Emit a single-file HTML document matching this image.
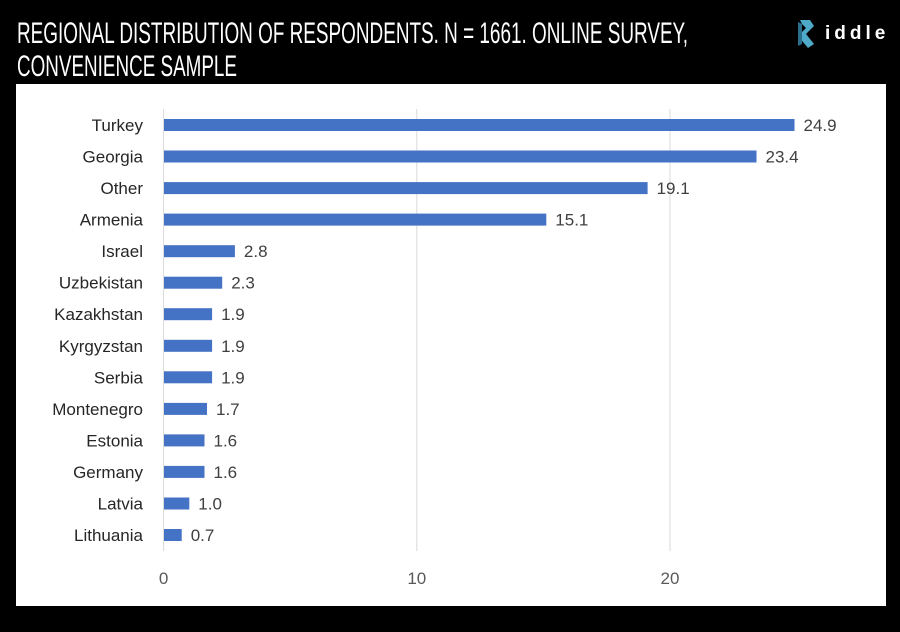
<!DOCTYPE html>
<html><head><style>
html,body{margin:0;padding:0;background:#000;width:900px;height:632px;overflow:hidden}
svg{display:block}
</style></head><body>
<svg width="900" height="632" xmlns="http://www.w3.org/2000/svg" font-family="Liberation Sans, sans-serif">
<rect width="900" height="632" fill="#000"/>
<text x="17" y="43" fill="#fff" font-size="30" textLength="671" lengthAdjust="spacingAndGlyphs">REGIONAL DISTRIBUTION OF RESPONDENTS. N = 1661. ONLINE SURVEY,</text>
<text x="17" y="76" fill="#fff" font-size="30" textLength="220" lengthAdjust="spacingAndGlyphs">CONVENIENCE SAMPLE</text>
<g transform="translate(794,18)">
<path d="M6 2 L16 2 L20 8 L12 16 L20 26 L14 30 L4 18 L12 10 L8 6 Z" fill="#4fa9c9"/>
<path d="M4 4 L8 6 L8 26 L4 28 Z" fill="#2b6f8c"/>
</g>
<text x="825" y="39" fill="#fff" font-size="19" font-weight="bold" letter-spacing="4">iddle</text>
<rect x="16" y="84" width="870" height="522" fill="#fff"/>
<g stroke="#d9d9d9" stroke-width="1">
<line x1="416.8" y1="109" x2="416.8" y2="551"/>
<line x1="670" y1="109" x2="670" y2="551"/>
<line x1="163.6" y1="109" x2="163.6" y2="551"/>
</g>
<g font-size="17" fill="#595959" text-anchor="middle">
<text x="163.6" y="584">0</text><text x="416.8" y="584">10</text><text x="670" y="584">20</text>
</g>
<g fill="#4472c4">
<rect x="164" y="119" width="630.5" height="12"/>
<rect x="164" y="150.5" width="592.5" height="12"/>
<rect x="164" y="182.1" width="483.6" height="12"/>
<rect x="164" y="213.6" width="382.3" height="12"/>
<rect x="164" y="245.2" width="70.9" height="12"/>
<rect x="164" y="276.7" width="58.2" height="12"/>
<rect x="164" y="308.2" width="48.1" height="12"/>
<rect x="164" y="339.8" width="48.1" height="12"/>
<rect x="164" y="371.3" width="48.1" height="12"/>
<rect x="164" y="402.9" width="43" height="12"/>
<rect x="164" y="434.4" width="40.5" height="12"/>
<rect x="164" y="465.9" width="40.5" height="12"/>
<rect x="164" y="497.5" width="25.3" height="12"/>
<rect x="164" y="529" width="17.7" height="12"/>
</g>
<g font-size="17" fill="#262626" text-anchor="end">
<text x="143" y="131">Turkey</text>
<text x="143" y="162.5">Georgia</text>
<text x="143" y="194.1">Other</text>
<text x="143" y="225.6">Armenia</text>
<text x="143" y="257.2">Israel</text>
<text x="143" y="288.7">Uzbekistan</text>
<text x="143" y="320.2">Kazakhstan</text>
<text x="143" y="351.8">Kyrgyzstan</text>
<text x="143" y="383.3">Serbia</text>
<text x="143" y="414.9">Montenegro</text>
<text x="143" y="446.4">Estonia</text>
<text x="143" y="477.9">Germany</text>
<text x="143" y="509.5">Latvia</text>
<text x="143" y="541">Lithuania</text>
</g>
<g font-size="17" fill="#404040">
<text x="803.5" y="131">24.9</text>
<text x="765.5" y="162.5">23.4</text>
<text x="656.6" y="194.1">19.1</text>
<text x="555.3" y="225.6">15.1</text>
<text x="243.9" y="257.2">2.8</text>
<text x="231.2" y="288.7">2.3</text>
<text x="221.1" y="320.2">1.9</text>
<text x="221.1" y="351.8">1.9</text>
<text x="221.1" y="383.3">1.9</text>
<text x="216" y="414.9">1.7</text>
<text x="213.5" y="446.4">1.6</text>
<text x="213.5" y="477.9">1.6</text>
<text x="198.3" y="509.5">1.0</text>
<text x="190.7" y="541">0.7</text>
</g>
</svg>
</body></html>
